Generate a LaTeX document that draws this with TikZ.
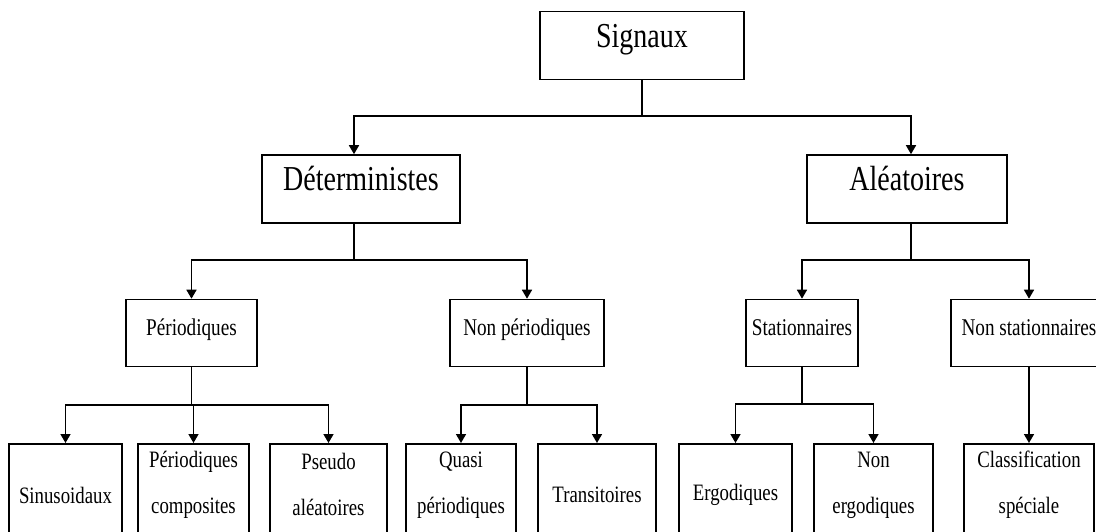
\documentclass[tikz,border=0pt]{standalone}
\usepackage{fontspec}
\setmainfont[FakeStretch=0.8]{Liberation Serif}
\usetikzlibrary{arrows.meta}

\begin{document}
\begin{tikzpicture}
    [   x = 1pt
    ,   y = -1pt
    ,   > = {Triangle[width=10pt,length=9pt]}
    ,   line width = 1.6pt
    ,   bigbox/.style =
        {   draw
        ,   inner sep = 0mm
        ,   minimum height = 68
        ,   font = \fontsize{35}{42}\selectfont
        ,   text height = .7em
        ,   text depth = .35em
        }
    ,   midbox/.style =
        {   draw
        ,   inner sep = 0mm
        ,   minimum height = 67
        ,   font = \fontsize{24}{29}\selectfont
        ,   text height = .7em
        ,   text depth = .16em
        }
    ,   leaf/.style =
        {   draw
        ,   anchor = north
        ,   inner sep = 0mm
        ,   minimum height = 120
        }
    ,   leaftext/.style =
        {   inner sep = 0mm
        ,   align = center
        ,   font = \fontsize{23.5}{46}\selectfont
        }
    ]
    \useasboundingbox (0,0) rectangle (1096,531);

    \node[bigbox, minimum width=204] (sig) at (642,45.5) {Signaux};
    \node[bigbox, minimum width=198] (det) at (361,189) {Déterministes};
    \node[bigbox, minimum width=200] (ale) at (907,189) {Aléatoires};

    \foreach\n/\x/\w/\t in {per/191.5/131/Périodiques, nonper/527/154/Non périodiques,
                            stat/802/112/Stationnaires, nonstat/1029/156/Non stationnaires}
    {   \node[midbox, minimum width=\w] (\n) at (\x,333) {\t};
    }

    \foreach\n/\x/\w in {sinus/65.5/113, percomp/193.5/111, pseudo/328.5/117, quasi/461/110,
                         trans/597/118, ergo/735.5/113, nonergo/873.5/119, classif/1029/130}
    {   \node[leaf, minimum width=\w] (\n) at (\x,443) {};
    }
    \foreach\n/\d/\t in {sinus/52/Sinusoidaux, percomp/42/{Périodiques\\composites},
                         pseudo/41/{Pseudo\\aléatoires}, quasi/42/{Quasi\\périodiques},
                         trans/52/Transitoires, ergo/52/Ergodiques,
                         nonergo/42/{Non\\ergodiques}, classif/42/{Classification\\spéciale}}
    {   \node[leaftext] (\n-txt) at ([yshift=-\d pt]\n.north) {\t};
    }

    % connectors
    \coordinate (sigbus) at (642,116);
    \coordinate (detbus) at (354,260);
    \coordinate (alebus) at (911,260);
    \coordinate (perbus) at (191.5,405);
    \coordinate (nonperbus) at (527,405);
    \coordinate (statbus) at (802,404);

    \draw (sig) -- (sigbus);
    \draw[->] (sigbus) -| ([xshift=-7pt]det.north);
    \draw[->] (sigbus) -| ([xshift=4pt]ale.north);

    \draw ([xshift=-7pt]det.south) -- (detbus);
    \draw ([xshift=4pt]ale.south) -- (alebus);
    \foreach\a/\b in {detbus/per, detbus/nonper, alebus/stat, alebus/nonstat,
                      perbus/sinus, perbus/percomp, perbus/pseudo,
                      nonperbus/quasi, nonperbus/trans, statbus/ergo, statbus/nonergo}
    {   \draw[->] (\a) -| (\b);
    }
    \draw (per) -- (perbus);
    \draw (nonper) -- (nonperbus);
    \draw (stat) -- (statbus);
    \draw[->] (nonstat) -- (classif);

\end{tikzpicture}
\end{document}
